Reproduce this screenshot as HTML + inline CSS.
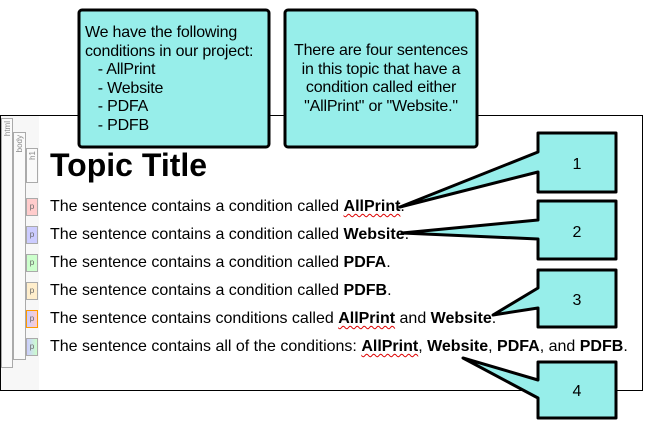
<!DOCTYPE html>
<html><head><meta charset="utf-8"><style>
*{margin:0;padding:0;box-sizing:border-box}
body{width:645px;height:429px;background:#fff;position:relative;overflow:hidden;font-family:"Liberation Sans",Arial,sans-serif}
.doc{position:absolute;left:0;top:115px;width:643px;height:276px;border:1px solid #000;background:#fff}
.gut{position:absolute;left:1px;top:116px;width:38px;height:274px;background:#f7f7f7}
.tag{position:absolute;border:1px solid #aaa;background:#fafafa;font-size:8px;color:#888}
.tag span{position:absolute;top:2px;left:1px;writing-mode:vertical-rl;transform:rotate(180deg)}
.p{position:absolute;left:26px;width:12px;height:18px;border:1px solid #aaa;font-size:8px;color:#666;text-align:center;line-height:16px}
.s{position:absolute;left:50px;font-size:16px;color:#000;white-space:nowrap;line-height:18px}
.s b{font-weight:bold}
.w{text-decoration:underline wavy #d00;text-decoration-thickness:1px;text-underline-offset:2px}
h1{position:absolute;left:50px;top:146px;font-size:32px;font-weight:bold;line-height:38px}
.t{position:absolute;font-size:16px;line-height:18.5px;color:#000;letter-spacing:-0.2px}
</style></head><body>
<div class="doc"></div>
<div class="gut"></div>
<div class="tag" style="left:1px;top:118px;width:12px;height:250px"><span>html</span></div>
<div class="tag" style="left:13px;top:132px;width:13px;height:228px"><span>body</span></div>
<div class="tag" style="left:26px;top:148px;width:12px;height:35px"><span>h1</span></div>
<div class="p" style="top:198px;background:#fcc">p</div>
<div class="p" style="top:226px;background:#ccf">p</div>
<div class="p" style="top:254px;background:#cfc">p</div>
<div class="p" style="top:282px;background:#fec">p</div>
<div class="p" style="top:310px;background:linear-gradient(90deg,#ccf,#fcc);border-color:#f90">p</div>
<div class="p" style="top:338px;background:linear-gradient(90deg,#ccf,#cfc)">p</div>
<h1>Topic Title</h1>
<div class="s" style="top:198px">The sentence contains a condition called <b class="w">AllPrint</b>.</div>
<div class="s" style="top:226px">The sentence contains a condition called <b>Website</b>.</div>
<div class="s" style="top:254px">The sentence contains a condition called <b>PDFA</b>.</div>
<div class="s" style="top:282px">The sentence contains a condition called <b>PDFB</b>.</div>
<div class="s" style="top:310px">The sentence contains conditions called <b class="w">AllPrint</b> and <b>Website</b>.</div>
<div class="s" style="top:338px">The sentence contains all of the conditions: <b class="w">AllPrint</b>, <b>Website</b>, <b>PDFA</b>, and <b>PDFB</b>.</div>
<svg width="645" height="429" style="position:absolute;left:0;top:0" fill="#97eeea" stroke="#000" stroke-width="3" stroke-linejoin="round">
<rect x="79" y="10" width="190" height="137" rx="3"/>
<rect x="285" y="10" width="192" height="137" rx="3"/>
<path d="M538,133 H616 V192 H538 V172 L400,207 L538,152 Z"/>
<path d="M538,201 H616 V259 H538 V239 L402,233 L538,220 Z"/>
<path d="M538,270 H616 V327 H538 V308 L493,315 L538,288 Z"/>
<path d="M538,362 H616 V418 H538 V398 L463,358 L538,380 Z"/>
<g fill="#000" stroke="none" font-family="Liberation Sans,Arial,sans-serif" font-size="16" text-anchor="middle">
<text x="577" y="169">1</text><text x="577" y="237">2</text><text x="577" y="305">3</text><text x="577" y="396">4</text>
</g>
</svg>
<div class="t" style="left:85px;top:24px">We have the following<br>conditions in our project:<br>&nbsp;&nbsp;&nbsp;- AllPrint<br>&nbsp;&nbsp;&nbsp;- Website<br>&nbsp;&nbsp;&nbsp;- PDFA<br>&nbsp;&nbsp;&nbsp;- PDFB</div>
<div class="t" style="left:285px;width:192px;top:42px;text-align:center">There are four sentences<br>in this topic that have a<br>condition called either<br>"AllPrint" or "Website."</div>
</body></html>
